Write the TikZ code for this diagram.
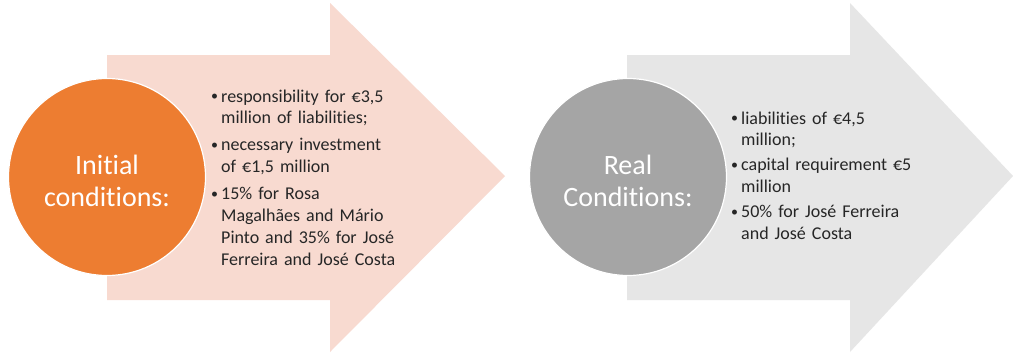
\documentclass[tikz,border=0pt]{standalone}
\usepackage{fontspec}
\setmainfont[Ligatures=NoCommon,RawFeature=-liga]{Carlito}
\definecolor{peach}{HTML}{F8DAD0}
\definecolor{accentorange}{HTML}{ED7D31}
\definecolor{lightgray}{HTML}{E6E6E6}
\definecolor{midgray}{HTML}{A5A5A5}
\definecolor{bodytext}{HTML}{262626}
\newcommand{\bul}{\makebox[10pt][l]{\raisebox{1.2pt}{\fontsize{14}{14}\selectfont\textbullet}}}
\newcommand{\cont}{\hspace*{10pt}}
\begin{document}
\begin{tikzpicture}[x=1pt,y=-1pt,
  circlenode/.style={circle,fill=#1,draw=white,line width=1.2pt,minimum size=197pt,inner sep=0pt},
  circletext/.style={text=white,font=\fontsize{28}{32}\selectfont,align=center},
  listtext/.style={text=bodytext,font=\fontsize{18}{21.8}\selectfont,align=left,
    text width=210pt,inner sep=0pt,anchor=base west}]
\useasboundingbox (0,0) rectangle (1013,354);
\fill[white] (0,0) rectangle (1013,354);

% block arrows
\fill[peach] (107,55) -- (330,55) -- (330,3) -- (505,176) -- (330,352) -- (330,300) -- (107,300) -- cycle;
\fill[lightgray] (627,55) -- (850,55) -- (850,3) -- (1013,176) -- (850,352) -- (850,300) -- (627,300) -- cycle;

% circles with headings
\node[circlenode=accentorange] (initc) at (107,177) {};
\node[circletext] (initt) at (107,181) {Initial\\conditions:};
\node[circlenode=midgray] (realc) at (628,177) {};
\node[circletext] (realt) at (628,181) {Real\\Conditions:};

% bullet lists
\node[listtext] (ilist) at (211,102) {%
\bul responsibility for €3,5\\
\cont million of liabilities;\\[5.3pt]
\bul necessary investment\\
\cont of €1,5 million\\[5.3pt]
\bul 15\% for Rosa\\
\cont Magalhães and Mário\\
\cont Pinto and 35\% for José\\
\cont Ferreira and José Costa};

\node[listtext] (rlist) at (731,124) {%
\bul liabilities of €4,5\\
\cont million;\\[3pt]
\bul capital requirement €5\\
\cont million\\[3pt]
\bul 50\% for José Ferreira\\
\cont and José Costa};
\end{tikzpicture}
\end{document}
